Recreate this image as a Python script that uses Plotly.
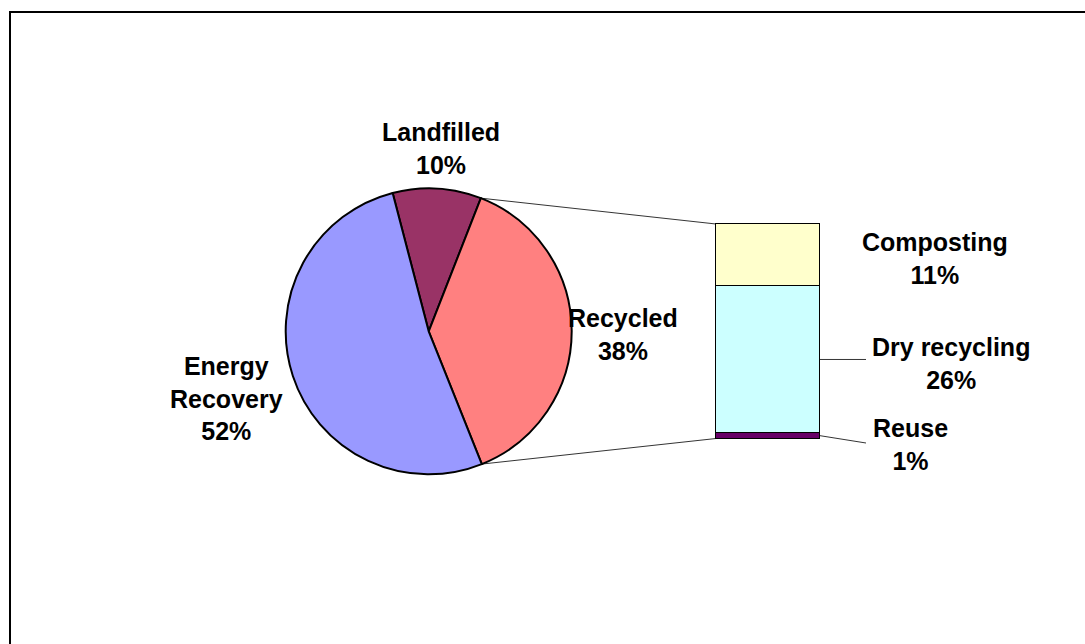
import math
import plotly.graph_objects as go

# ---- data ----
pie_labels = ["Landfilled", "Recycled", "Energy Recovery"]
pie_values = [10, 38, 52]
pie_colors = ["#993366", "#FF8080", "#9999FF"]

bar_labels = ["Reuse", "Dry recycling", "Composting"]   # bottom -> top
bar_values = [1, 26, 11]
bar_colors = ["#660066", "#CCFFFF", "#FFFFCC"]

W, H = 1085, 644
FONT = "Liberation Sans, Arial, sans-serif"

# ---- layout geometry (pixels) ----
pie_cx, pie_cy, pie_r = 428.7, 331.3, 143.0
pie_rotation = -14.6
bar_x0, bar_x1 = 716.0, 820.0
bar_top, bar_bot = 224.0, 438.5
pad = 3.0  # room so bar outlines are not clipped

def px(x):
    return x / W

def py(y):
    return 1 - y / H

fig = go.Figure()

fig.add_trace(go.Pie(
    labels=pie_labels, values=pie_values, sort=False, direction="clockwise",
    rotation=pie_rotation, textinfo="none", hoverinfo="label+percent",
    marker=dict(colors=pie_colors, line=dict(color="black", width=2)),
    domain=dict(x=[px(pie_cx - pie_r), px(pie_cx + pie_r)],
                y=[py(pie_cy + pie_r), py(pie_cy - pie_r)]),
    showlegend=False,
))

total_bar = sum(bar_values)
for lab, val, col in zip(bar_labels, bar_values, bar_colors):
    fig.add_trace(go.Bar(
        x=[0], y=[val], width=1, name=lab, showlegend=False,
        marker=dict(color=col, line=dict(color="black", width=1.5)),
        xaxis="x", yaxis="y",
    ))

kx = (bar_x1 - bar_x0)          # px per x unit
ky = (bar_bot - bar_top) / total_bar  # px per y unit

fig.update_layout(
    width=W, height=H, margin=dict(l=0, r=0, t=0, b=0),
    paper_bgcolor="white", plot_bgcolor="rgba(0,0,0,0)",
    barmode="stack", bargap=0,
    xaxis=dict(domain=[px(bar_x0 - pad), px(bar_x1 + pad)],
               range=[-0.5 - pad / kx, 0.5 + pad / kx],
               visible=False, fixedrange=True),
    yaxis=dict(domain=[py(bar_bot + pad), py(bar_top - pad)],
               range=[-pad / ky, total_bar + pad / ky],
               visible=False, fixedrange=True),
    showlegend=False,
)

# ---- connector lines from the Recycled slice to the bar ----
vt = sum(pie_values)
ang0 = math.radians(pie_rotation) + 2 * math.pi * pie_values[0] / vt
ang1 = ang0 + 2 * math.pi * pie_values[1] / vt

def pie_pt(a):
    return pie_cx + pie_r * math.sin(a), pie_cy - pie_r * math.cos(a)

def bar_y(v):
    return py(bar_bot - ky * v)

p0 = pie_pt(ang0)
p1 = pie_pt(ang1)
line_style = dict(color="black", width=0.8)
fig.add_shape(type="line", xref="paper", yref="paper",
              x0=px(p0[0]), y0=py(p0[1]), x1=px(bar_x0), y1=bar_y(total_bar),
              line=line_style)
fig.add_shape(type="line", xref="paper", yref="paper",
              x0=px(p1[0]), y0=py(p1[1]), x1=px(bar_x0), y1=bar_y(0),
              line=line_style)

# leader lines for bar labels
mid_dry = bar_values[0] + bar_values[1] / 2
mid_reuse = bar_values[0] / 2
fig.add_shape(type="line", xref="paper", yref="paper",
              x0=px(bar_x1), y0=bar_y(mid_dry), x1=px(866), y1=bar_y(mid_dry),
              line=line_style)
fig.add_shape(type="line", xref="paper", yref="paper",
              x0=px(bar_x1), y0=bar_y(mid_reuse), x1=px(866), y1=py(443),
              line=line_style)

# frame (top and left edges visible)
frame = dict(color="black", width=2)
fig.add_shape(type="line", xref="paper", yref="paper",
              x0=px(9), y0=py(12), x1=1.0, y1=py(12), line=frame)
fig.add_shape(type="line", xref="paper", yref="paper",
              x0=px(10), y0=py(11), x1=px(10), y1=0.0, line=frame)

# ---- labels ----
def label(txt, x, y):
    fig.add_annotation(text=txt, x=px(x), y=py(y), xref="paper", yref="paper",
                       showarrow=False, xanchor="center", yanchor="middle",
                       align="center",
                       font=dict(family=FONT, size=25, color="black"))

def pct(v):
    return f"{v}%"

label(f"<b>{pie_labels[0]}<br>{pct(pie_values[0])}</b>", 441, 148)
label(f"<b>{pie_labels[1]}<br>{pct(pie_values[1])}</b>", 623, 334)
label(f"<b>Energy<br>Recovery<br>{pct(pie_values[2])}</b>", 226, 398)
label(f"<b>{bar_labels[2]}<br>{pct(bar_values[2])}</b>", 935, 258)
label(f"<b>{bar_labels[1]}<br>{pct(bar_values[1])}</b>", 951, 363)
label(f"<b>{bar_labels[0]}<br>{pct(bar_values[0])}</b>", 910, 444.5)

fig.write_html("out.html")
